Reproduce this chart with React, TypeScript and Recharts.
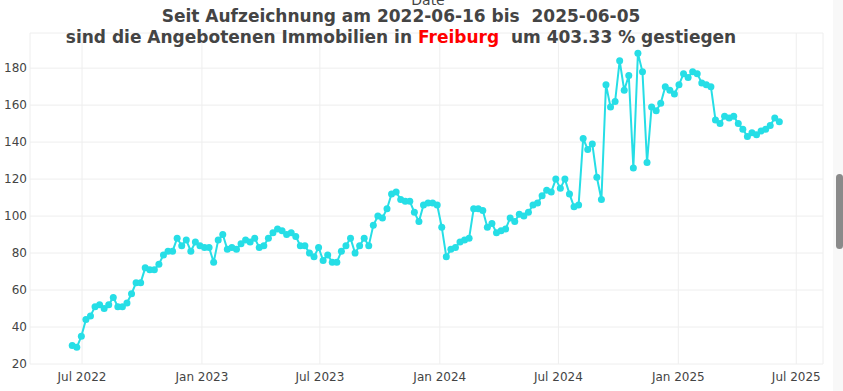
import { CartesianGrid, Line, LineChart, XAxis, YAxis } from "recharts"

const DAY = 86400000
const firstDate = Date.UTC(2022, 5, 16)

// weekly listing counts (Freiburg)
const values = [
  30, 29, 35, 44, 46, 51, 52, 50, 52, 56,
  51, 51, 53, 58, 64, 64, 72, 71, 71, 74,
  79, 81, 81, 88, 84, 87, 81, 86, 84, 83,
  83, 75, 87, 90, 82, 83, 82, 85, 87, 86,
  88, 83, 84, 88, 91, 93, 92, 90, 91, 89,
  84, 84, 80, 78, 83, 76, 79, 75, 75, 81,
  84, 88, 80, 84, 88, 84, 95, 100, 99, 104,
  112, 113, 109, 108, 108, 102, 97, 106, 107, 107,
  106, 94, 78, 82, 83, 86, 87, 88, 104, 104,
  103, 94, 96, 91, 92, 93, 99, 97, 101, 100,
  102, 106, 107, 111, 114, 113, 120, 115, 120, 112,
  105, 106, 142, 136, 139, 121, 109, 171, 159, 162,
  184, 168, 176, 126, 188, 178, 129, 159, 157, 161,
  170, 168, 166, 171, 177, 175, 178, 177, 172, 171,
  170, 152, 150, 154, 153, 154, 150, 147, 143, 145,
  144, 146, 147, 149, 153, 151,
]

const dates = values.map((_, i) => firstDate + i * 7 * DAY)

const xTicks = [
  Date.UTC(2022, 6, 1),
  Date.UTC(2023, 0, 1),
  Date.UTC(2023, 6, 1),
  Date.UTC(2024, 0, 1),
  Date.UTC(2024, 6, 1),
  Date.UTC(2025, 0, 1),
  Date.UTC(2025, 6, 1),
]
const yTicks = [20, 40, 60, 80, 100, 120, 140, 160, 180]

const data = dates.map((t, i) => ({ t, value: values[i] }))

const xDomain = [Date.UTC(2022, 3, 12, 5), Date.UTC(2025, 7, 11)]

const fmtDate = (t: number) => {
  const d = new Date(t)
  return `${d.getUTCMonth() === 0 ? "Jan" : "Jul"} ${d.getUTCFullYear()}`
}

const font = "'DejaVu Sans', Verdana, sans-serif"
const lineColor = "#26dee6"

export default function App() {
  return (
    <div style={{ position: "absolute", left: 0, top: 0, width: 843, height: 391, background: "#fff", fontFamily: font }}>
      <LineChart
        width={843}
        height={391}
        data={data}
        margin={{ top: 33, right: 20, left: 0, bottom: 0 }}
      >
        <CartesianGrid stroke="#eeeeee" strokeWidth={1} />
        <XAxis
          dataKey="t"
          type="number"
          scale="time"
          domain={xDomain}
          allowDataOverflow
          ticks={xTicks}
          tickFormatter={fmtDate}
          axisLine={false}
          tickLine={false}
          tickSize={0}
          tickMargin={8}
          height={27}
          tick={{ fontSize: 12, fill: "#444", fontFamily: font }}
        />
        <YAxis
          type="number"
          domain={[20, 199]}
          allowDataOverflow
          ticks={yTicks}
          axisLine={false}
          tickLine={false}
          tickSize={0}
          tickMargin={3}
          width={30}
          tick={{ fontSize: 12, fill: "#444", fontFamily: font }}
        />
        <Line
          type="linear"
          dataKey="value"
          stroke={lineColor}
          strokeWidth={2}
          dot={{ r: 3.5, fill: lineColor, stroke: "none" }}
          activeDot={false}
          isAnimationActive={false}
        />
      </LineChart>
      <svg
        width={843}
        height={60}
        style={{ position: "absolute", left: 0, top: 0, pointerEvents: "none" }}
      >
        <text x={428} y={5} textAnchor="middle" fontSize={14} fill="#444" fontFamily={font}>
          Date
        </text>
        <text
          x={401}
          y={22}
          textAnchor="middle"
          fontSize={17}
          fontWeight="bold"
          fill="#444"
          fontFamily={font}
          style={{ whiteSpace: "pre" }}
        >
          Seit Aufzeichnung am 2022-06-16 bis  2025-06-05
        </text>
        <text
          x={401}
          y={42.5}
          textAnchor="middle"
          fontSize={17}
          fontWeight="bold"
          fill="#444"
          fontFamily={font}
          style={{ whiteSpace: "pre" }}
        >
          sind die Angebotenen Immobilien in <tspan fill="#ff0000">Freiburg</tspan>  um 403.33 % gestiegen
        </text>
      </svg>
      <div style={{ position: "absolute", left: 833, top: 0, width: 10, height: 391, background: "#f8f8f8" }} />
      <div style={{ position: "absolute", left: 836, top: 174, width: 7, height: 75, borderRadius: 4, background: "#8a8a8a" }} />
    </div>
  )
}
